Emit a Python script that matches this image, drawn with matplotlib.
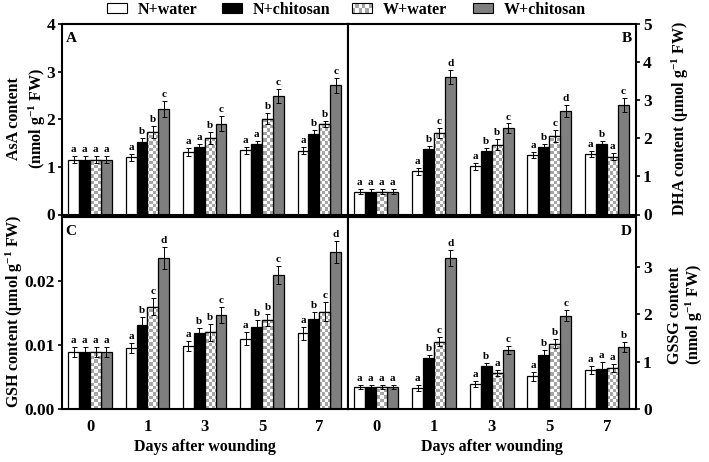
import numpy as np
import matplotlib
matplotlib.use("Agg")
import matplotlib.pyplot as plt
from matplotlib.patches import Rectangle
from matplotlib.legend_handler import HandlerBase

plt.rcParams['font.family'] = ['Liberation Serif', 'DejaVu Serif']
plt.rcParams['font.weight'] = 'bold'
plt.rcParams['mathtext.fontset'] = 'custom'
plt.rcParams['mathtext.rm'] = 'Liberation Serif:bold'
plt.rcParams['mathtext.bf'] = 'Liberation Serif:bold'
plt.rcParams['mathtext.default'] = 'bf'

# ---------------- data ----------------
days = ['0', '1', '3', '5', '7']
treatments = ['N+water', 'N+chitosan', 'W+water', 'W+chitosan']

asa_mean = [[1.15, 1.20, 1.31, 1.35, 1.34],
            [1.15, 1.52, 1.41, 1.47, 1.70],
            [1.15, 1.73, 1.61, 2.01, 1.90],
            [1.15, 2.22, 1.91, 2.49, 2.71]]
asa_err = [[0.07, 0.07, 0.08, 0.07, 0.07],
           [0.07, 0.08, 0.08, 0.07, 0.08],
           [0.07, 0.13, 0.12, 0.12, 0.07],
           [0.07, 0.17, 0.15, 0.15, 0.15]]
asa_letters = [['a', 'a', 'a', 'a', 'a'],
               ['a', 'b', 'a', 'a', 'b'],
               ['a', 'b', 'b', 'b', 'b'],
               ['a', 'c', 'c', 'c', 'c']]

dha_mean = [[0.60, 1.13, 1.27, 1.57, 1.58],
            [0.60, 1.72, 1.67, 1.76, 1.84],
            [0.60, 2.13, 1.83, 2.05, 1.52],
            [0.60, 3.61, 2.27, 2.72, 2.88]]
dha_err = [[0.07, 0.09, 0.09, 0.08, 0.08],
           [0.07, 0.09, 0.08, 0.10, 0.09],
           [0.07, 0.13, 0.15, 0.16, 0.10],
           [0.07, 0.18, 0.12, 0.16, 0.18]]
dha_letters = [['a', 'a', 'a', 'a', 'a'],
               ['a', 'b', 'b', 'b', 'b'],
               ['a', 'c', 'b', 'c', 'a'],
               ['a', 'd', 'c', 'd', 'c']]

gsh_mean = [[0.0089, 0.0095, 0.0098, 0.0110, 0.0118],
            [0.0089, 0.0131, 0.0118, 0.0128, 0.0140],
            [0.0089, 0.0160, 0.0120, 0.0139, 0.0152],
            [0.0089, 0.0236, 0.0147, 0.0209, 0.0245]]
gsh_err = [[0.0008, 0.0008, 0.0008, 0.0010, 0.0010],
           [0.0008, 0.0013, 0.0009, 0.0011, 0.0012],
           [0.0008, 0.0013, 0.0013, 0.0010, 0.0015],
           [0.0008, 0.0017, 0.0013, 0.0014, 0.0017]]
gsh_letters = [['a', 'a', 'a', 'a', 'a'],
               ['a', 'b', 'b', 'b', 'b'],
               ['a', 'c', 'b', 'b', 'c'],
               ['a', 'd', 'c', 'c', 'd']]

gssg_mean = [[0.47, 0.44, 0.53, 0.69, 0.82],
             [0.47, 1.07, 0.90, 1.14, 0.84],
             [0.47, 1.42, 0.76, 1.38, 0.87],
             [0.47, 3.19, 1.24, 1.97, 1.31]]
gssg_err = [[0.04, 0.06, 0.06, 0.09, 0.09],
            [0.04, 0.07, 0.07, 0.10, 0.15],
            [0.04, 0.10, 0.07, 0.10, 0.08],
            [0.04, 0.17, 0.09, 0.12, 0.10]]
gssg_letters = [['a', 'a', 'a', 'a', 'a'],
                ['a', 'b', 'b', 'b', 'a'],
                ['a', 'c', 'a', 'b', 'a'],
                ['a', 'd', 'c', 'c', 'b']]

# ---------------- style ----------------
GRAY = '#7f7f7f'
CHECK = '#a6a6a6'
W = 0.19
offsets = [-1.5 * W, -0.5 * W, 0.5 * W, 1.5 * W]
face = ['white', 'black', 'white', GRAY]

fig = plt.figure(figsize=(7.09, 4.62), dpi=100)
FW, FH = 709, 462


def ax_rect(x0, y0, x1, y1):
    return [x0 / FW, 1 - y1 / FH, (x1 - x0) / FW, (y1 - y0) / FH]


axA = fig.add_axes(ax_rect(62, 24, 348, 214.5))
axB = fig.add_axes(ax_rect(348, 24, 636, 214.5))
axC = fig.add_axes(ax_rect(62, 217, 348, 409))
axD = fig.add_axes(ax_rect(348, 217, 636, 409))


def checker_img(nr, nc):
    img = np.ones((nr, nc, 3))
    c = np.array([int(CHECK[i:i + 2], 16) / 255 for i in (1, 3, 5)])
    for i in range(nr):
        for j in range(nc):
            if (i + j) % 2 == 0:
                img[i, j] = c
    return img


def draw_panel(ax, means, errs, letters, ylim, yticks, yfmt, side, letter_off,
               panel, show_x):
    x = np.arange(len(days))
    xlim = (-0.49, 4.5)
    nc = 88
    nr = 58
    img = checker_img(nr, nc)
    for k in range(4):
        m = np.array(means[k])
        e = np.array(errs[k])
        bars = ax.bar(x + offsets[k], m, W, color=face[k], edgecolor='black',
                      linewidth=0.9, zorder=2)
        if k == 2:
            for b in bars:
                im = ax.imshow(img, extent=(xlim[0], xlim[1], ylim[0], ylim[1]),
                               aspect='auto', interpolation='nearest', zorder=2.2,
                               origin='lower')
                im.set_clip_path(b)
            ax.bar(x + offsets[k], m, W, color='none', edgecolor='black',
                   linewidth=0.9, zorder=2.5)
        ax.errorbar(x + offsets[k], m, yerr=e, fmt='none', ecolor='black',
                    elinewidth=0.7, capsize=1.8, capthick=0.7, zorder=3)
        for i in range(len(days)):
            ax.text(x[i] + offsets[k], m[i] + e[i] + letter_off, letters[k][i],
                    ha='center', va='bottom', fontsize=8, fontweight='bold')
    ax.set_xlim(*xlim)
    ax.set_ylim(*ylim)
    ax.set_yticks(yticks)
    ax.set_yticklabels([yfmt.format(t) for t in yticks])
    for s in ax.spines.values():
        s.set_linewidth(1.5)
    if side == 'right':
        ax.yaxis.tick_right()
    ax.tick_params(axis='y', direction='out', length=3, width=1.2, labelsize=12.5,
                   pad=2)
    ax.tick_params(axis='x', length=0, labelsize=12, pad=7)
    ax.set_xticks(x)
    if show_x:
        ax.set_xticklabels(days)
        ax.set_xlabel('Days after wounding', fontsize=11.5, fontweight='bold',
                      labelpad=3)
    else:
        ax.set_xticklabels([])
    if side == 'right':
        ax.text(0.985, 0.96, panel, transform=ax.transAxes, ha='right', va='top',
                fontsize=11, fontweight='bold')
    else:
        ax.text(0.012, 0.96, panel, transform=ax.transAxes, ha='left', va='top',
                fontsize=11, fontweight='bold')


draw_panel(axA, asa_mean, asa_err, asa_letters, (0, 4), [0, 1, 2, 3, 4], '{:g}',
           'left', 0.04, 'A', False)
draw_panel(axB, dha_mean, dha_err, dha_letters, (0, 5), [0, 1, 2, 3, 4, 5], '{:g}',
           'right', 0.05, 'B', False)
draw_panel(axC, gsh_mean, gsh_err, gsh_letters, (0, 0.030), [0, 0.01, 0.02],
           '{:.2f}', 'left', 0.0003, 'C', True)
draw_panel(axD, gssg_mean, gssg_err, gssg_letters, (0, 4.05), [0, 1, 2, 3], '{:g}',
           'right', 0.04, 'D', True)

# y labels
fig.text(27 / FW, 1 - 119 / FH, 'AsA content\n(nmol g$^{-1}$ FW)', rotation=90,
         ha='center', va='center', multialignment='center', fontsize=11.5,
         fontweight='bold', linespacing=1.25)
fig.text(680 / FW, 1 - 118 / FH, 'DHA content (μmol g$^{-1}$ FW)', rotation=90,
         ha='center', va='center', fontsize=11.5, fontweight='bold')
fig.text(14 / FW, 1 - 311 / FH, 'GSH content (μmol g$^{-1}$ FW)', rotation=90,
         ha='center', va='center', fontsize=11.5, fontweight='bold')
fig.text(686 / FW, 1 - 315 / FH, 'GSSG content\n(nmol g$^{-1}$ FW)', rotation=90,
         ha='center', va='center', multialignment='center', fontsize=11.5,
         fontweight='bold', linespacing=1.0)


# legend
class CheckerHandler(HandlerBase):
    def create_artists(self, legend, orig_handle, xdescent, ydescent, width,
                       height, fontsize, trans):
        arts = []
        nc, nr = 6, 2
        cw, ch = width / nc, height / nr
        for i in range(nc):
            for j in range(nr):
                if (i + j) % 2 == 0:
                    arts.append(Rectangle((-xdescent + i * cw, -ydescent + j * ch),
                                          cw, ch, facecolor=CHECK,
                                          edgecolor='none', transform=trans))
        arts.append(Rectangle((-xdescent, -ydescent), width, height,
                              facecolor='none', edgecolor='black', lw=0.8,
                              transform=trans))
        return arts


handles = [Rectangle((0, 0), 1, 1, facecolor='white', edgecolor='black', lw=0.8),
           Rectangle((0, 0), 1, 1, facecolor='black', edgecolor='black', lw=0.8),
           Rectangle((0, 0), 1, 1, facecolor='white', edgecolor='black', lw=0.8),
           Rectangle((0, 0), 1, 1, facecolor=GRAY, edgecolor='black', lw=0.8)]
leg_x = [107, 222, 352, 473]
for h, lab, lx in zip(handles, treatments, leg_x):
    lg = fig.legend([h], [lab], loc='center left',
                    bbox_to_anchor=(lx / FW, 1 - 10 / FH),
                    frameon=False, handlelength=1.25, handleheight=0.6,
                    handletextpad=0.7, borderpad=0, borderaxespad=0,
                    handler_map={handles[2]: CheckerHandler()},
                    prop={'weight': 'bold', 'size': 11.5})

fig.savefig('out.png', dpi=100)
